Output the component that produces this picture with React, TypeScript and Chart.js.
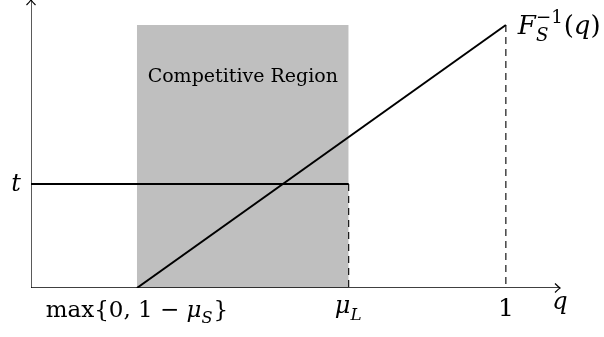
import React, { useEffect, useRef } from "react";
import { Chart, registerables } from "chart.js";

Chart.register(...registerables);

// ---- data (q on the x axis, t / value on the y axis) ----
const axisQ = [0, 1.114];
const axisT = [0, 1.095];
const regionQ = [0.223, 0.669];
const regionTop = [1, 1];
const thresholdQ = [0, 0.669];
const thresholdT = [0.395, 0.395];
const muLDropQ = [0.669, 0.669];
const muLDropT = [0.395, 0];
const inverseQ = [0.223, 1];
const inverseT = [0, 1];
const oneDropQ = [1, 1];
const oneDropT = [1, 0];
const regionLabelPos = [0.446, 0.782];

const FONT = '"DejaVu Serif", "Liberation Serif", serif';

type Seg = { t?: string; it?: boolean; sub?: string; sup?: string; subIt?: boolean };

function segFont(size: number, it?: boolean) {
  return `${it ? "italic " : ""}${size}px ${FONT}`;
}

function measureSegs(ctx: CanvasRenderingContext2D, segs: Seg[], size: number) {
  let w = 0;
  const small = size * 0.7;
  for (const s of segs) {
    if (s.t !== undefined) {
      ctx.font = segFont(size, s.it);
      w += ctx.measureText(s.t).width;
    } else {
      let sw = 0;
      if (s.sup) {
        ctx.font = segFont(small, false);
        sw = Math.max(sw, ctx.measureText(s.sup).width);
      }
      if (s.sub) {
        ctx.font = segFont(small, s.subIt);
        sw = Math.max(sw, ctx.measureText(s.sub).width);
      }
      w += sw + 1;
    }
  }
  return w;
}

function drawRich(
  ctx: CanvasRenderingContext2D,
  segs: Seg[],
  x: number,
  y: number,
  size: number,
  align: "left" | "center" | "right"
) {
  const total = measureSegs(ctx, segs, size);
  let cx = align === "left" ? x : align === "center" ? x - total / 2 : x - total;
  const small = size * 0.7;
  ctx.textAlign = "left";
  ctx.textBaseline = "alphabetic";
  ctx.fillStyle = "#000";
  for (const s of segs) {
    if (s.t !== undefined) {
      ctx.font = segFont(size, s.it);
      ctx.fillText(s.t, cx, y);
      cx += ctx.measureText(s.t).width;
    } else {
      let sw = 0;
      if (s.sup) {
        ctx.font = segFont(small, false);
        ctx.fillText(s.sup, cx, y - size * 0.42);
        sw = Math.max(sw, ctx.measureText(s.sup).width);
      }
      if (s.sub) {
        ctx.font = segFont(small, s.subIt);
        ctx.fillText(s.sub, cx, y + size * 0.28);
        sw = Math.max(sw, ctx.measureText(s.sub).width);
      }
      cx += sw + 1;
    }
  }
}

function arrow(ctx: CanvasRenderingContext2D, x: number, y: number, dir: "right" | "up") {
  ctx.save();
  ctx.strokeStyle = "#000";
  ctx.lineWidth = 1.2;
  ctx.beginPath();
  if (dir === "right") {
    ctx.moveTo(x - 5, y - 4.5);
    ctx.quadraticCurveTo(x - 1.5, y - 1, x, y);
    ctx.quadraticCurveTo(x - 1.5, y + 1, x - 5, y + 4.5);
  } else {
    ctx.moveTo(x - 4.5, y + 5);
    ctx.quadraticCurveTo(x - 1, y + 1.5, x, y);
    ctx.quadraticCurveTo(x + 1, y + 1.5, x + 4.5, y + 5);
  }
  ctx.stroke();
  ctx.restore();
}

const labelsPlugin = {
  id: "texLabels",
  afterDatasetsDraw(chart: any) {
    const ctx: CanvasRenderingContext2D = chart.ctx;
    const xs = chart.scales.x;
    const ys = chart.scales.y;
    const X = (v: number) => xs.getPixelForValue(v);
    const Y = (v: number) => ys.getPixelForValue(v);
    ctx.save();
    arrow(ctx, X(axisQ[1]), Y(0), "right");
    arrow(ctx, X(0), Y(axisT[1]), "up");

    // region label
    ctx.font = `19px ${FONT}`;
    ctx.fillStyle = "#000";
    ctx.textAlign = "center";
    ctx.textBaseline = "alphabetic";
    ctx.fillText("Competitive Region", X(regionLabelPos[0]), Y(regionLabelPos[1]));

    const M = 24;
    // t label
    drawRich(ctx, [{ t: "t", it: true }], X(0) - 10, Y(thresholdT[0]) + 7, M, "right");
    // bottom labels
    const base = Y(0) + 30;
    drawRich(
      ctx,
      [{ t: "max{0, 1 − " }, { t: "μ", it: true }, { sub: "S", subIt: true }, { t: "}" }],
      X(regionQ[0]),
      base - 1,
      M - 1,
      "center"
    );
    drawRich(ctx, [{ t: "μ", it: true }, { sub: "L", subIt: true }], X(regionQ[1]), base - 5, M, "center");
    drawRich(ctx, [{ t: "1" }], X(1), base - 2, M + 1, "center");
    drawRich(ctx, [{ t: "q", it: true }], X(axisQ[1]), base - 9, M, "center");
    // F_S^{-1}(q)
    drawRich(
      ctx,
      [{ t: "F", it: true }, { sup: "−1", sub: "S", subIt: true }, { t: "(" }, { t: "q", it: true }, { t: ")" }],
      X(1) + 12,
      Y(1) + 9,
      M + 2,
      "left"
    );
    ctx.restore();
  },
};

function pts(xs: number[], ys: number[]) {
  return xs.map((x, i) => ({ x, y: ys[i] }));
}

export default function App() {
  const ref = useRef<HTMLCanvasElement | null>(null);
  useEffect(() => {
    if (!ref.current) return;
    const line = (data: any, extra: any = {}) => ({
      type: "line",
      data,
      borderColor: "#000",
      borderWidth: 2,
      pointRadius: 0,
      fill: false,
      tension: 0,
      ...extra,
    });
    const chart = new Chart(ref.current, {
      type: "scatter",
      data: {
        datasets: [
          line(pts(inverseQ, inverseT), { order: 0 }),
          line(pts(thresholdQ, thresholdT), { order: 0 }),
          line(pts(axisQ, [0, 0]), { borderWidth: 1.3, order: 1 }),
          line(pts([0, 0], axisT), { borderWidth: 1.3, order: 1 }),
          line(pts(muLDropQ, muLDropT), { borderWidth: 1.1, borderDash: [7, 5], order: 1 }),
          line(pts(oneDropQ, oneDropT), { borderWidth: 1.1, borderDash: [7, 5], order: 1 }),
          line(pts(regionQ, regionTop), {
            borderWidth: 0,
            borderColor: "rgba(0,0,0,0)",
            backgroundColor: "#bfbfbf",
            fill: "origin",
            order: 5,
          }),
        ] as any,
      },
      options: {
        animation: false,
        responsive: false,
        maintainAspectRatio: false,
        layout: { padding: { left: 31, right: 44, top: 0, bottom: 49 } },
        plugins: { legend: { display: false }, tooltip: { enabled: false } },
        scales: {
          x: { type: "linear", min: axisQ[0], max: axisQ[1], display: false },
          y: { type: "linear", min: axisT[0], max: axisT[1], display: false },
        },
      },
      plugins: [labelsPlugin as any],
    });
    return () => chart.destroy();
  }, []);
  return (
    <div style={{ position: "absolute", left: 0, top: 0, width: 604, height: 337, background: "#fff" }}>
      <canvas ref={ref} width={604} height={337} style={{ display: "block" }} />
    </div>
  );
}
